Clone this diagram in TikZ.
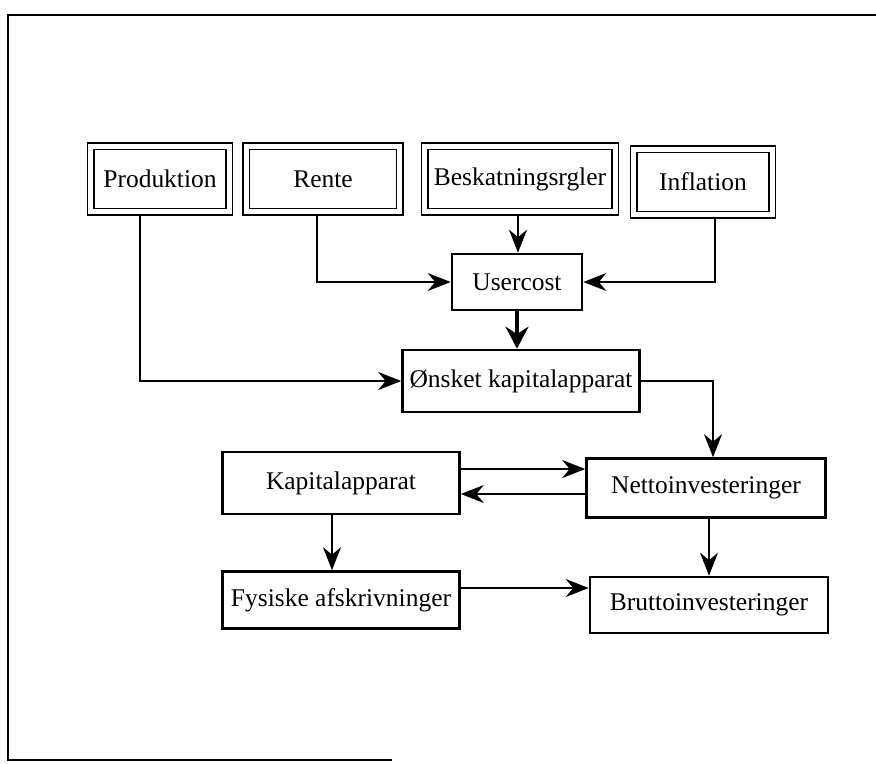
\documentclass[tikz,border=0pt]{standalone}
\usepackage{fontspec}
\setmainfont{Liberation Serif}
\usepackage{tikz}
\usetikzlibrary{arrows.meta}
\tikzstyle{topbox} = [rectangle, draw=black, line width=1.1pt, minimum height=1.18cm, outer sep=0.13cm, font=\fontsize{14.5}{17}\selectfont]
\tikzstyle{box} = [rectangle, draw=black, line width=1.5pt, minimum width=4.74cm, minimum height=1.2cm, font=\fontsize{14.5}{17}\selectfont]
\tikzstyle{arrow} = [line width=0.8pt, -{Stealth[length=0.46cm,width=0.36cm,inset=0.15cm]}]
\tikzstyle{bigarrow} = [line width=1.8pt, -{Stealth[length=0.44cm,width=0.46cm,inset=0.15cm]}]

\begin{document}
\begin{tikzpicture}
\useasboundingbox (0,0) rectangle (17.52,-15.26);
\draw[line width=1.2pt] (17.52,-0.3) -- (0.16,-0.3) -- (0.16,-15.2) -- (7.84,-15.2);

\node (prod) [topbox, minimum width=2.64cm] at (3.2,-3.58) {Produktion};
\node (rente) [topbox, minimum width=2.94cm, right of=prod, xshift=2.26cm] {Rente};
\node (beskat) [topbox, minimum width=3.62cm, right of=rente, xshift=2.94cm] {Beskatningsrgler};
\node (infl) [topbox, minimum width=2.64cm, right of=beskat, xshift=2.66cm, yshift=-0.06cm] {Inflation};
\foreach \n in {prod,rente,beskat,infl}
  \draw[line width=0.7pt] (\n.north west) rectangle (\n.south east);

\node (user) [box, minimum width=2.6cm, minimum height=1.12cm, below of=beskat, xshift=-0.06cm, yshift=-1.06cm] {Usercost};
\node (onsket) [box, minimum height=1.24cm, below of=user, xshift=0.08cm, yshift=-0.98cm] {Ønsket kapitalapparat};
\node (kap) [box, minimum height=1.24cm, below of=onsket, xshift=-3.6cm, yshift=-1.04cm] {Kapitalapparat};
\node (netto) [box, minimum width=4.78cm, minimum height=1.18cm, right of=kap, xshift=6.30cm, yshift=-0.10cm] {Nettoinvesteringer};
\node (fys) [box, minimum height=1.14cm, below of=kap, yshift=-1.34cm] {Fysiske afskrivninger};
\node (brutto) [box, minimum width=4.76cm, minimum height=1.12cm, below of=netto, xshift=0.06cm, yshift=-1.34cm] {Bruttoinvesteringer};

\draw[arrow] ([xshift=-0.4cm]prod.south) |- (onsket.west);
\draw[arrow] ([xshift=-0.12cm]rente.south) |- (user.west);
\draw[arrow] ([xshift=-0.04cm]beskat.south) -- ([xshift=-0.04cm]beskat.south |- user.north);
\draw[arrow] ([xshift=0.24cm]infl.south) |- (user.east);
\draw[bigarrow] (user.south) -- (user.south |- onsket.north);
\draw[arrow] (onsket.east) -| ([xshift=0.14cm]netto.north);
\draw[arrow] ([yshift=0.28cm]kap.east) -- ([yshift=0.28cm]kap.east -| netto.west);
\draw[arrow] ([yshift=-0.12cm]netto.west) -- ([yshift=-0.12cm]netto.west -| kap.east);
\draw[arrow] ([xshift=-0.18cm]kap.south) -- ([xshift=-0.18cm]kap.south |- fys.north);
\draw[arrow] ([xshift=0.06cm]netto.south) -- ([xshift=0.06cm]netto.south |- brutto.north);
\draw[arrow] ([yshift=0.24cm]fys.east) -- ([yshift=0.24cm]fys.east -| brutto.west);
\end{tikzpicture}
\end{document}
